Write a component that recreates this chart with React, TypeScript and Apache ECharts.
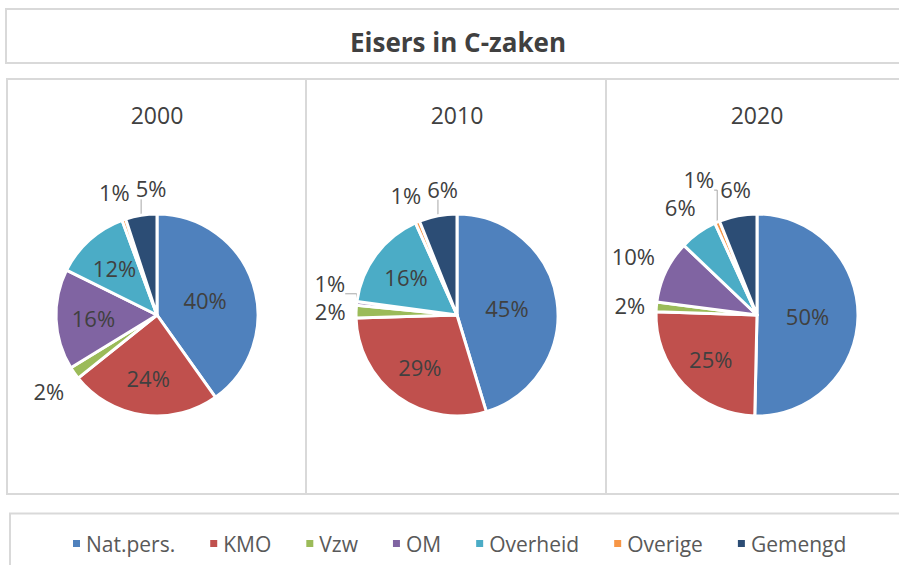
import React, { useEffect, useRef } from 'react';
import * as echarts from 'echarts';

const chartTitle = 'Eisers in C-zaken';
const categories = ['Nat.pers.', 'KMO', 'Vzw', 'OM', 'Overheid', 'Overige', 'Gemengd'];
const years = ['2000', '2010', '2020'];
const values2000 = [40, 24, 2, 16, 12, 0.6, 5];
const values2010 = [45, 29, 2, 0.6, 16, 0.7, 6];
const values2020 = [50, 25, 1.5, 10, 6, 0.8, 6];
const seriesValues = [values2000, values2010, values2020];
const colors = ['#4F81BD', '#C0504D', '#9BBB59', '#8064A2', '#4BACC6', '#F79646', '#2C4D75'];

const FONT = '"Open Sans", "Noto Sans", sans-serif';
const CENTERS_X = [157, 457, 757];
const CY = 315;
const R = 101;
const INSIDE_MIN = 11;
const GAP = 10;
const SEP = 6;
const BORDER = '#D9D9D9';

function makeSeries(values: number[], cx: number, cy: number, name: string) {
  const placed: { x: number; y: number; w: number; h: number }[] = [];
  let last = -1;
  return {
    type: 'pie',
    name,
    center: [cx, cy],
    radius: [0, R],
    startAngle: 90,
    clockwise: true,
    avoidLabelOverlap: false,
    silent: true,
    emphasis: { disabled: true },
    itemStyle: { borderColor: '#FFFFFF', borderWidth: 3 },
    label: {
      show: true,
      fontFamily: FONT,
      fontSize: 22,
      color: '#404040',
      formatter: (p: any) => `${Math.round(p.value)}%`,
    },
    labelLine: { show: true, length: 12, length2: 0, lineStyle: { color: '#A6A6A6', width: 1 } },
    data: categories.map((c, i) => ({
      name: c,
      value: values[i],
      label: { position: values[i] >= INSIDE_MIN ? 'inside' : 'outside' },
      labelLine: { show: values[i] < INSIDE_MIN },
    })),
    labelLayout: (params: any) => {
      const i = params.dataIndex;
      if (i <= last) placed.length = 0;
      last = i;
      const lr = params.labelRect;
      const w = lr.width;
      const h = lr.height;
      const pts = params.labelLinePoints;
      if (values[i] >= INSIDE_MIN || !pts) {
        const lx = lr.x + w / 2;
        const ly = lr.y + h / 2;
        const dx = lx - cx;
        const dy = ly - cy;
        const d = Math.hypot(dx, dy) || 1;
        const k = values[i] >= 35 ? 0.5 : 0.63;
        return {
          x: cx + (dx / d) * R * k,
          y: cy + (dy / d) * R * k,
          align: 'center',
          verticalAlign: 'middle',
        };
      }
      const p0 = pts[0];
      let ux = p0[0] - cx;
      let uy = p0[1] - cy;
      const d = Math.hypot(ux, uy) || 1;
      ux /= d;
      uy /= d;
      const s = GAP + (Math.abs(ux) * w) / 2 + Math.abs(uy) * (h / 2 + 4);
      let x = p0[0] + ux * s;
      let y = p0[1] + uy * s;
      const x0 = x;
      const y0 = y;
      const side = Math.abs(ux) >= Math.abs(uy);
      const hits = (bx: any) =>
        Math.abs(x - bx.x) < (w + bx.w) / 2 + SEP && Math.abs(y - bx.y) < (h + bx.h) / 2 + SEP;
      for (const b of placed) {
        if (!hits(b)) continue;
        if (side) {
          y = y < b.y ? b.y - (h + b.h) / 2 - SEP : b.y + (h + b.h) / 2 + SEP;
        } else if (values[i] < 1) {
          // tiny slice: push its label further out along its own direction
          let t = 0;
          while (hits(b) && t < 200) {
            t += 1;
            x = x0 + ux * t;
            y = y0 + uy * t;
          }
        } else {
          x = x < b.x ? b.x - (w + b.w) / 2 - SEP : b.x + (w + b.w) / 2 + SEP;
        }
      }
      placed.push({ x, y, w, h });
      const moved = Math.hypot(x - x0, y - y0);
      let line = [p0, p0, p0];
      if (moved > 8) {
        const qx = Math.min(Math.max(p0[0], x - w / 2), x + w / 2);
        const qy = Math.min(Math.max(p0[1], y - h / 2), y + h / 2);
        line = [p0, [p0[0], qy], [qx, qy]];
      }
      return { x, y, align: 'center', verticalAlign: 'middle', labelLinePoints: line };
    },
  };
}

export default function App() {
  const ref = useRef<HTMLDivElement>(null);
  useEffect(() => {
    if (!ref.current) return;
    const chart = echarts.init(ref.current, undefined, { renderer: 'svg' });
    const borderStyle = { fill: 'none', stroke: BORDER, lineWidth: 2 };
    const option: any = {
      animation: false,
      color: colors,
      textStyle: { fontFamily: FONT },
      legend: {
        data: categories.map((c, i) => ({ name: c, itemStyle: { color: colors[i] } })),
        left: 71,
        top: 533,
        padding: 0,
        orient: 'horizontal',
        icon: 'rect',
        itemWidth: 9,
        itemHeight: 9,
        itemGap: 33,
        selectedMode: false,
        textStyle: { fontFamily: FONT, fontSize: 21, color: '#595959' },
      },
      graphic: [
        { type: 'rect', silent: true, shape: { x: 6, y: 9, width: 900, height: 54 }, style: borderStyle },
        { type: 'rect', silent: true, shape: { x: 7, y: 79, width: 900, height: 415 }, style: borderStyle },
        { type: 'line', silent: true, shape: { x1: 306, y1: 79, x2: 306, y2: 494 }, style: { stroke: BORDER, lineWidth: 2 } },
        { type: 'line', silent: true, shape: { x1: 606, y1: 79, x2: 606, y2: 494 }, style: { stroke: BORDER, lineWidth: 2 } },
        { type: 'rect', silent: true, shape: { x: 10, y: 513.5, width: 900, height: 100 }, style: borderStyle },
        {
          type: 'text',
          silent: true,
          x: 458,
          y: 42,
          style: {
            text: chartTitle,
            fontFamily: FONT,
            fontSize: 26,
            fontWeight: 'bold',
            fill: '#404040',
            align: 'center',
            verticalAlign: 'middle',
          },
        },
        ...years.map((yr, k) => ({
          type: 'text',
          silent: true,
          x: CENTERS_X[k],
          y: 115,
          style: {
            text: yr,
            fontFamily: FONT,
            fontSize: 23,
            fill: '#404040',
            align: 'center',
            verticalAlign: 'middle',
          },
        })),
      ],
      series: seriesValues.map((v, k) => makeSeries(v, CENTERS_X[k], CY, years[k])),
    };
    chart.setOption(option);
    return () => chart.dispose();
  }, []);
  return <div ref={ref} style={{ position: 'absolute', left: 0, top: 0, width: 899, height: 565 }} />;
}
